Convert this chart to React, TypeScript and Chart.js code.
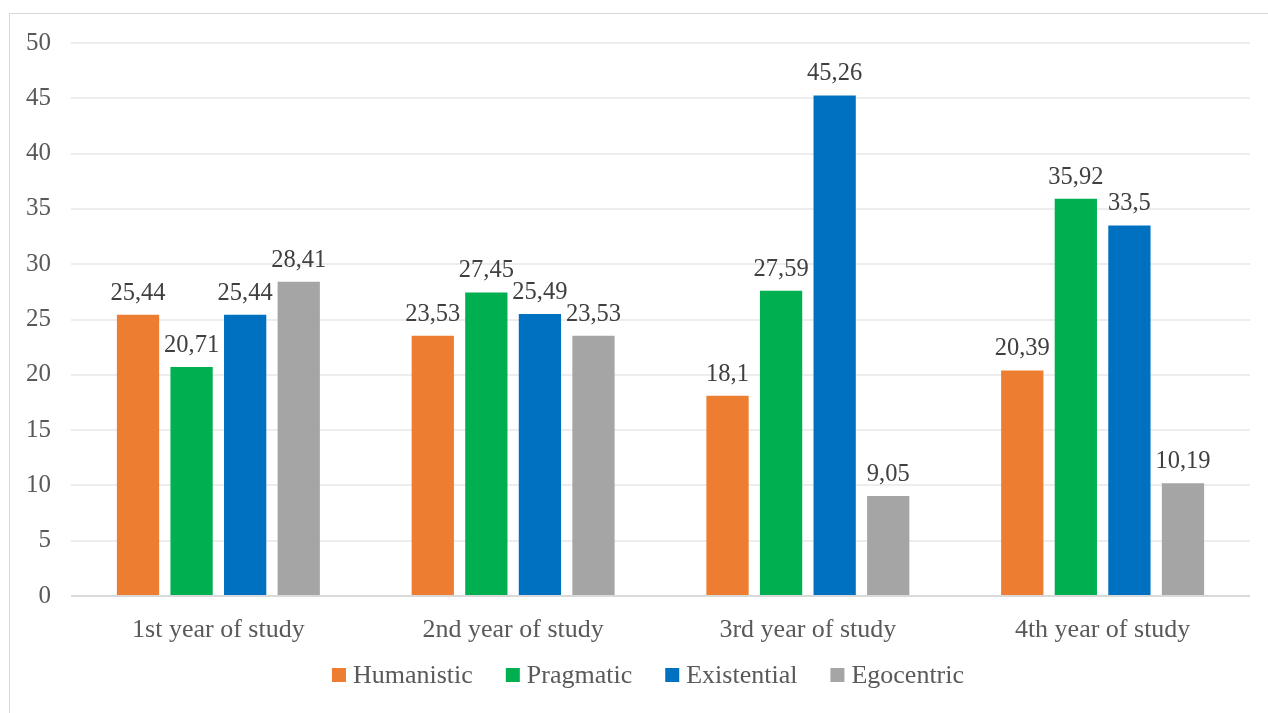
import React, { useEffect, useRef } from "react";
import { Chart, registerables } from "chart.js";

Chart.register(...registerables);

// Study years on the category axis
const categories = ["1st year of study", "2nd year of study", "3rd year of study", "4th year of study"];

// Share of each orientation per year (%)
const humanistic = [25.44, 23.53, 18.1, 20.39];
const pragmatic = [20.71, 27.45, 27.59, 35.92];
const existential = [25.44, 25.49, 45.26, 33.5];
const egocentric = [28.41, 23.53, 9.05, 10.19];

const seriesNames = ["Humanistic", "Pragmatic", "Existential", "Egocentric"];
const seriesColors = ["#ED7D31", "#00B050", "#0070C0", "#A5A5A5"];

// Value axis ticks
const yMin = 0;
const yMax = 50;
const yStep = 5;

const FONT = '"Liberation Serif", "Times New Roman", serif';

const fmt = (v: number) => String(v).replace(".", ",");

// Writes each bar's value above it, with a decimal comma
const valueLabels = {
  id: "valueLabels",
  afterDatasetsDraw(chart: any) {
    const ctx = chart.ctx;
    ctx.save();
    ctx.font = `24.5px ${FONT}`;
    ctx.fillStyle = "#404040";
    ctx.textAlign = "center";
    ctx.textBaseline = "alphabetic";
    chart.data.datasets.forEach((ds: any, i: number) => {
      const meta = chart.getDatasetMeta(i);
      meta.data.forEach((el: any, j: number) => {
        ctx.fillText(fmt(ds.data[j]), el.x, el.y - 15);
      });
    });
    ctx.restore();
  },
};

// Legend row below the category labels: small squares followed by the series names
const bottomLegend = {
  id: "bottomLegend",
  afterDraw(chart: any) {
    const ctx = chart.ctx;
    const box = 14;
    const textGap = 7;
    const itemGap = 33;
    ctx.save();
    ctx.font = `26px ${FONT}`;
    const items = chart.data.datasets.map((ds: any) => ({
      label: ds.label,
      color: ds.backgroundColor,
      w: ctx.measureText(ds.label).width,
    }));
    const total =
      items.reduce((s: number, it: any) => s + box + textGap + it.w, 0) + itemGap * (items.length - 1);
    const center = chart.width / 2 + 14;
    const baseline = chart.chartArea.bottom + 87;
    let x = center - total / 2;
    ctx.textBaseline = "alphabetic";
    ctx.textAlign = "left";
    items.forEach((it: any) => {
      ctx.fillStyle = it.color;
      ctx.fillRect(x, baseline - 15, box, box);
      x += box + textGap;
      ctx.fillStyle = "#595959";
      ctx.fillText(it.label, x, baseline);
      x += it.w + itemGap;
    });
    ctx.restore();
  },
};

export default function App() {
  const canvasRef = useRef<HTMLCanvasElement | null>(null);

  useEffect(() => {
    const canvas = canvasRef.current;
    if (!canvas) return;
    const series = [humanistic, pragmatic, existential, egocentric];
    const chart = new Chart(canvas, {
      type: "bar",
      data: {
        labels: categories,
        datasets: series.map((data, i) => ({
          label: seriesNames[i],
          data,
          backgroundColor: seriesColors[i],
          borderWidth: 0,
          categoryPercentage: 0.727,
          barPercentage: 0.789,
        })),
      },
      options: {
        responsive: false,
        animation: false,
        devicePixelRatio: 1,
        layout: { padding: { top: 43, right: 18, left: 0, bottom: 0 } },
        plugins: {
          legend: { display: false },
          tooltip: { enabled: false },
        },
        scales: {
          x: {
            grid: { display: false },
            border: { display: false },
            ticks: {
              color: "#595959",
              font: { family: FONT, size: 26 },
              padding: 11,
              maxRotation: 0,
            },
            afterFit(scale: any) {
              scale.height = 117;
            },
          },
          y: {
            min: yMin,
            max: yMax,
            border: { display: false },
            grid: {
              drawTicks: false,
              color: (c: any) => (c.tick && c.tick.value === 0 ? "#D9D9D9" : "#EDEDED"),
              lineWidth: 2,
            },
            ticks: {
              stepSize: yStep,
              color: "#595959",
              font: { family: FONT, size: 25 },
              padding: 20,
            },
            afterFit(scale: any) {
              scale.width = 71;
            },
          },
        },
      },
      plugins: [valueLabels, bottomLegend],
    });
    return () => chart.destroy();
  }, []);

  return (
    <div
      style={{
        position: "absolute",
        left: 0,
        top: 0,
        width: 1268,
        height: 713,
        overflow: "hidden",
        background: "#ffffff",
      }}
    >
      <div
        style={{
          position: "absolute",
          left: 9,
          top: 13,
          width: 1400,
          height: 800,
          borderTop: "1px solid #D9D9D9",
          borderLeft: "1px solid #D9D9D9",
        }}
      />
      <canvas
        ref={canvasRef}
        width={1268}
        height={713}
        style={{ position: "absolute", left: 0, top: 0, width: 1268, height: 713 }}
      />
    </div>
  );
}
